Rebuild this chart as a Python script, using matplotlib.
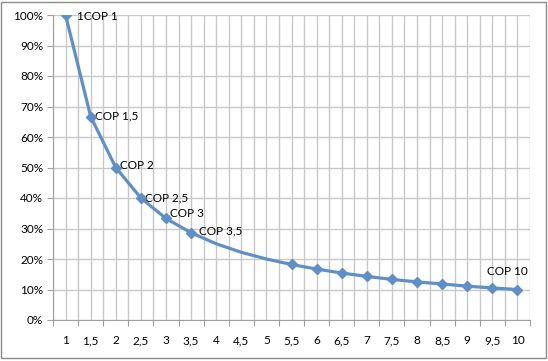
import matplotlib
matplotlib.use('Agg')
from matplotlib import pyplot as plt
from matplotlib.patches import Rectangle

# x categories (comma decimals as in the original) and share values
categories = ['1', '1,5', '2', '2,5', '3', '3,5', '4', '4,5', '5', '5,5',
              '6', '6,5', '7', '7,5', '8', '8,5', '9', '9,5', '10']
values = [1.0, 0.667, 0.5, 0.4, 0.333, 0.286, 0.25, 0.222, 0.2, 0.182,
          0.167, 0.154, 0.143, 0.133, 0.125, 0.118, 0.111, 0.105, 0.1]
# points that carry a marker (4, 4,5 and 5 have none)
marked = ['1', '1,5', '2', '2,5', '3', '3,5', '5,5', '6', '6,5', '7',
          '7,5', '8', '8,5', '9', '9,5', '10']
point_labels = {'1': '1COP 1', '1,5': 'COP 1,5', '2': 'COP 2', '2,5': 'COP 2,5',
                '3': 'COP 3', '3,5': 'COP 3,5', '10': 'COP 10'}
# label offsets in pixels (dx, dy)
label_offsets = {'1': (11, -2), '1,5': (4, 1), '2': (4, 2), '2,5': (4, 0),
                 '3': (4, 5), '3,5': (8, 2)}

plt.rcParams['font.family'] = ['Lato', 'DejaVu Sans']
line_color = '#5f8fc6'
grid_color = '#c8c8c8'

fig = plt.figure(figsize=(5.48, 3.61), dpi=100)
ax = fig.add_axes([53 / 548, 1 - 320 / 361, 477 / 548, 305 / 361])

idx = list(range(len(categories)))
ax.plot(idx, values, color=line_color, lw=2.3, zorder=3)
mx = [categories.index(c) for c in marked]
my = [values[i] for i in mx]
ax.plot(mx, my, ls='none', marker='D', ms=5.5, color=line_color, zorder=4)

for cat, txt in point_labels.items():
    i = categories.index(cat)
    if cat == '10':
        ax.annotate(txt, (i, values[i]), xytext=(-10, 18), textcoords='offset pixels',
                    ha='center', va='center', fontsize=8.5)
    else:
        ax.annotate(txt, (i, values[i]), xytext=label_offsets[cat], textcoords='offset pixels',
                    ha='left', va='center', fontsize=8.5)

ax.set_xlim(-0.5, len(categories) - 0.5)
ax.set_ylim(0, 1)
ax.set_yticks([i / 10 for i in range(11)])
ax.set_yticklabels([f'{i * 10}%' for i in range(11)])

# labels at category centres, tick marks at boundaries
ax.set_xticks([i - 0.5 for i in range(len(categories) + 1)])
ax.set_xticklabels([])
ax.set_xticks(idx, minor=True)
ax.set_xticklabels(categories, minor=True)
ax.tick_params(axis='x', which='major', length=4, color='#a0a0a0', direction='out')
ax.tick_params(axis='x', which='minor', length=0, pad=11, labelsize=8.5)
ax.tick_params(axis='y', length=4, color='#a0a0a0', labelsize=8.5, pad=3)

ax.grid(True, which='both', color=grid_color, lw=1)
ax.set_axisbelow(True)
for s in ['top', 'right']:
    ax.spines[s].set_visible(False)
for s in ['left', 'bottom']:
    ax.spines[s].set_color('#a0a0a0')

# outer chart border
fig.patches.append(Rectangle((1 / 548, 1 - 358 / 361), 545 / 548, 356 / 361,
                             transform=fig.transFigure, fill=False,
                             ec='#8c8c8c', lw=1))

fig.savefig('out.png', dpi=100)
